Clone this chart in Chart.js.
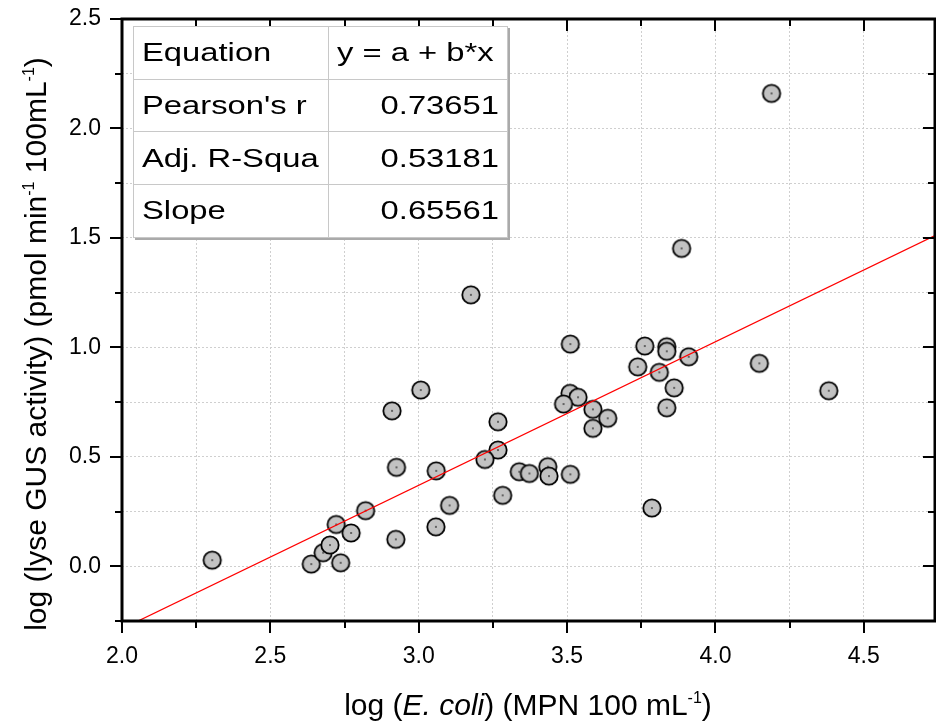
<!DOCTYPE html>
<html>
<head>
<meta charset="utf-8">
<script src="https://cdn.jsdelivr.net/npm/chart.js@4.4.1/dist/chart.umd.min.js"></script>
<style>
  html, body { margin:0; padding:0; background:#fff; }
  #wrap { position:relative; width:936px; height:726px; overflow:hidden; font-family:"Liberation Sans", Arial, sans-serif; }
  #c { position:absolute; left:0; top:0; }
  .ytitle { position:absolute; left:-274px; top:327px; width:620px; height:34px; line-height:34px; font-size:30px; text-align:center; transform:rotate(-90deg); transform-origin:50% 50%; color:#000; white-space:nowrap; }
  .xtitle { position:absolute; left:278px; top:688px; width:500px; height:34px; line-height:34px; font-size:30px; text-align:center; color:#000; white-space:nowrap; }
  sup { font-size:16px; vertical-align:0; position:relative; top:-12px; }
  table.stats { position:absolute; left:133px; top:26px; border-collapse:collapse; background:#fff; border:1.5px solid #555; box-shadow:2px 2px 0 #aaa; font-size:26px; color:#000; }
  table.stats td { border:1px solid #c8c8c8; height:51.7px; padding:0 8px; white-space:nowrap; }
  table.stats td.k { width:178px; text-align:left; }
  table.stats td.v { width:162px; text-align:right; }
  table.stats span { display:inline-block; transform:scaleX(1.26); }
  table.stats td.k span { transform-origin:0 50%; }
  table.stats td.v span { transform-origin:100% 50%; }
  table.stats td.v span.l { transform-origin:0 50%; }
</style>
</head>
<body>
<div id="wrap">
  <canvas id="c" width="936" height="726"></canvas>
  <div class="ytitle">log (lyse GUS activity) (pmol min<sup>-1</sup> 100mL<sup>-1</sup>)</div>
  <div class="xtitle">log (<i>E. coli</i>) (MPN 100 mL<sup>-1</sup>)</div>
  <table class="stats" id="stats"></table>
</div>
<script>
// ---- data ----
const ecoliLog = [2.304, 2.638, 2.678, 2.701, 2.737, 2.722, 2.772, 2.821, 2.910, 2.925,
                  2.923, 3.007, 3.059, 3.058, 3.104, 3.176, 3.267, 3.267, 3.223, 3.283,
                  3.339, 3.373, 3.435, 3.439, 3.511, 3.786, 4.189, 3.886, 3.511, 3.762,
                  3.836, 3.836, 3.910, 3.738, 3.811, 4.148, 4.382, 3.861, 3.836, 3.510,
                  3.537, 3.488, 3.587, 3.637, 3.587];
const gusLog   = [0.028, 0.010, 0.062, 0.097, 0.016, 0.191, 0.152, 0.254, 0.710, 0.452,
                  0.123, 0.805, 0.436, 0.180, 0.278, 1.240, 0.660, 0.531, 0.488, 0.324,
                  0.432, 0.424, 0.455, 0.412, 0.420, 0.266, 2.160, 1.452, 1.015, 1.006,
                  1.003, 0.982, 0.957, 0.911, 0.886, 0.927, 0.802, 0.815, 0.724, 0.790,
                  0.772, 0.741, 0.717, 0.676, 0.630];
const fitLineX = [2.054, 4.74];
const fitLineY = [-0.25, 1.511];
const tableLabels = ["Equation", "Pearson's r", "Adj. R-Squa", "Slope"];
const tableValues = ["y = a + b*x", "0.73651", "0.53181", "0.65561"];
const xTicks = ["2.0", "2.5", "3.0", "3.5", "4.0", "4.5"];
const yTicks = ["0.0", "0.5", "1.0", "1.5", "2.0", "2.5"];
const X_MIN = 2.0, X_MAX = 4.74, Y_MIN = -0.25, Y_MAX = 2.5;

// table
const tbl = document.getElementById('stats');
tableLabels.forEach((lab, i) => {
  const tr = document.createElement('tr');
  const a = document.createElement('td'); a.className = 'k';
  const sa = document.createElement('span'); sa.textContent = lab; a.appendChild(sa);
  const b = document.createElement('td'); b.className = 'v';
  const sb = document.createElement('span'); sb.textContent = tableValues[i]; b.appendChild(sb);
  if (i === 0) { b.style.textAlign = 'left'; sb.className = 'l'; }
  tr.appendChild(a); tr.appendChild(b); tbl.appendChild(tr);
});

// marker image: grey disc, black rim, small centre dot
const mk = document.createElement('canvas');
mk.width = 22; mk.height = 22;
(function(){
  const g = mk.getContext('2d');
  g.beginPath(); g.arc(11, 11, 8.7, 0, Math.PI * 2);
  g.fillStyle = '#c2c2c2'; g.fill();
  g.lineWidth = 1.8; g.strokeStyle = '#000'; g.stroke();
  g.fillStyle = '#000'; g.fillRect(10.3, 10.3, 1.4, 1.4);
})();

const pts = ecoliLog.map((x, i) => ({ x: x, y: gusLog[i] }));
const fit = fitLineX.map((x, i) => ({ x: x, y: fitLineY[i] }));

const isMajor = v => Math.abs(v * 2 - Math.round(v * 2)) < 1e-6;
const fmt = (v, list) => { const s = (Math.round(v * 10) / 10).toFixed(1); return (isMajor(v) && list.includes(s)) ? s : ''; };

const frame = {
  id: 'frame',
  afterDatasetsDraw(chart) {
    const { ctx, chartArea: a, scales } = chart;
    ctx.save();
    ctx.strokeStyle = '#000';
    ctx.lineCap = 'butt';
    ctx.lineWidth = 2;
    const maj = 12, min = 7;
    for (let v = X_MIN; v <= X_MAX + 1e-9; v += 0.25) {
      const px = Math.round(scales.x.getPixelForValue(v));
      const L = isMajor(v) ? maj : min;
      ctx.beginPath();
      ctx.moveTo(px, a.bottom); ctx.lineTo(px, a.bottom + L);
      ctx.moveTo(px, a.top); ctx.lineTo(px, a.top + L);
      ctx.stroke();
    }
    for (let v = Y_MIN; v <= Y_MAX + 1e-9; v += 0.25) {
      const py = Math.round(scales.y.getPixelForValue(v));
      const L = isMajor(v) ? maj : min;
      ctx.beginPath();
      ctx.moveTo(a.left, py); ctx.lineTo(a.left - L, py);
      ctx.moveTo(a.right, py); ctx.lineTo(a.right - L, py);
      ctx.stroke();
    }
    ctx.lineWidth = 3;
    ctx.beginPath();
    ctx.rect(a.left, a.top, a.right - a.left, a.bottom - a.top);
    ctx.stroke();
    ctx.restore();
  }
};

new Chart(document.getElementById('c'), {
  type: 'scatter',
  data: {
    datasets: [
      { label: 'fit', data: fit, showLine: true, borderColor: '#ff0000', borderWidth: 1.3,
        pointRadius: 0, pointHoverRadius: 0, order: 0 },
      { label: 'samples', data: pts, pointStyle: mk, pointRadius: 9, order: 1 }
    ]
  },
  options: {
    responsive: false,
    devicePixelRatio: 1,
    animation: false,
    layout: { autoPadding: false, padding: { top: 19, right: 1, left: 0, bottom: 0 } },
    plugins: { legend: { display: false }, tooltip: { enabled: false } },
    scales: {
      x: {
        type: 'linear', min: X_MIN, max: X_MAX,
        afterFit: s => { s.height = 105; s.paddingLeft = 0; s.paddingRight = 0; },
        ticks: { stepSize: 0.25, includeBounds: false, autoSkip: false, maxRotation: 0,
                 padding: 22, color: '#000', font: { family: 'Liberation Sans', size: 23 },
                 callback: v => fmt(v, xTicks) },
        grid: { color: '#cfcfcf', lineWidth: 1, drawTicks: false },
        border: { display: false, dash: [2, 2] }
      },
      y: {
        type: 'linear', min: Y_MIN, max: Y_MAX,
        afterFit: s => { s.width = 122; s.paddingTop = 0; s.paddingBottom = 0; },
        ticks: { stepSize: 0.25, includeBounds: false, autoSkip: false,
                 padding: 21, color: '#000', font: { family: 'Liberation Sans', size: 23 },
                 callback: v => fmt(v, yTicks) },
        grid: { color: '#cfcfcf', lineWidth: 1, drawTicks: false },
        border: { display: false, dash: [2, 2] }
      }
    }
  },
  plugins: [frame]
});
</script>
</body>
</html>
